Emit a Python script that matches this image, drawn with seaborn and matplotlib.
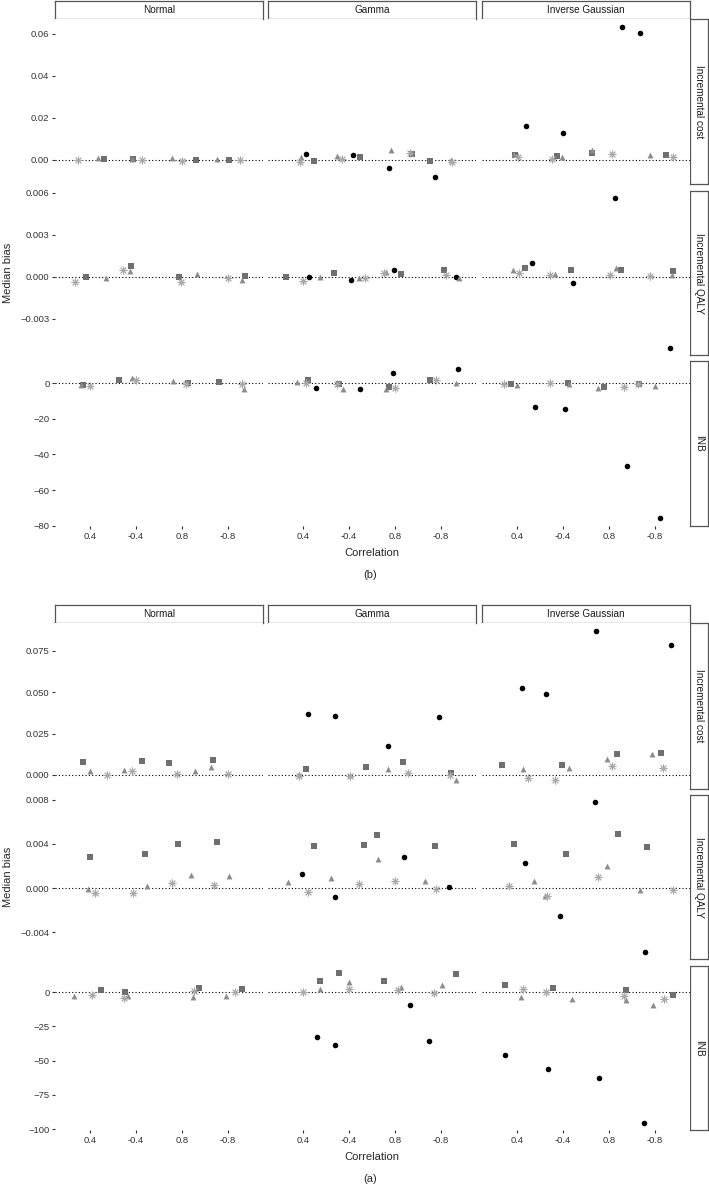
import numpy as np
import pandas as pd
import matplotlib
matplotlib.use("Agg")
import matplotlib.pyplot as plt
import seaborn as sns

sns.set_theme(style="white")
plt.rcParams["font.family"] = ["Liberation Sans", "DejaVu Sans"]

# x categories (facet columns share them)
correlations = ["0.4", "-0.4", "0.8", "-0.8"]
distributions = ["Normal", "Gamma", "Inverse Gaussian"]
outcomes = ["Incremental cost", "Incremental QALY", "INB"]
methods = ["circle", "square", "triangle", "asterisk"]

# each panel: one row per method (circle, square, triangle, asterisk),
# values in correlation order 0.4, -0.4, 0.8, -0.8; jitter = offset
# ---------------- panel (b) ----------------
b_cost_normal = [None,
                 [0.0005, 0.0005, 0.0, 0.0],
                 [0.0008, 0.0004, 0.0007, 0.0004],
                 [0.0, -0.0002, -0.0004, 0.0]]
b_cost_normal_jit = [None,
                     [0.30, -0.07, 0.30, 0.02],
                     [0.17, -0.09, -0.22, -0.23],
                     [-0.27, 0.12, -0.01, 0.26]]
b_cost_gamma = [[0.0025, 0.0024, -0.0041, -0.0081],
                [-0.0008, 0.0013, 0.0025, -0.0005],
                [0.0012, 0.0018, 0.0048, -0.0002],
                [-0.0013, 0.0005, 0.0032, -0.0011]]
b_cost_gamma_jit = [[0.07, 0.09, -0.14, -0.14],
                    [0.23, 0.25, 0.36, -0.25],
                    [-0.04, -0.25, -0.08, 0.22],
                    [-0.06, -0.15, 0.32, 0.24]]
b_cost_ig = [[0.016, 0.0129, 0.0633, 0.0605],
             [0.002, 0.0016, 0.003, 0.002],
             [0.0025, 0.0013, 0.0046, 0.0022],
             [0.0014, 0.0005, 0.0027, 0.0013]]
b_cost_ig_jit = [[0.20, 0.01, 0.28, -0.33],
                 [-0.05, -0.12, -0.37, 0.24],
                 [-0.07, -0.02, -0.36, -0.11],
                 [0.02, -0.23, 0.06, 0.39]]

b_qaly_normal = [None,
                 [-0.00005, 0.0008, 0.0, 0.00005],
                 [-0.0001, 0.0004, 0.0002, -0.0002],
                 [-0.0004, 0.00045, -0.0004, -0.0001]]
b_qaly_normal_jit = [None,
                     [-0.09, -0.10, -0.07, 0.36],
                     [0.35, -0.12, 0.33, 0.30],
                     [-0.33, -0.28, -0.02, 0.0]]
b_qaly_gamma = [[0.0, -0.0002, 0.00048, 0.0],
                [-0.00005, 0.00026, 0.0002, 0.0005],
                [-0.00005, -0.0001, 0.00035, -0.0001],
                [-0.0003, -0.0001, 0.00025, 0.00015]]
b_qaly_gamma_jit = [[0.14, 0.04, -0.03, 0.33],
                    [-0.37, -0.33, 0.12, 0.07],
                    [0.36, 0.21, -0.20, 0.40],
                    [-0.01, 0.34, -0.24, 0.11]]
b_qaly_ig = [[0.00095, -0.00043, 0.0056, -0.0051],
             [0.0006, 0.00048, 0.00048, 0.0004],
             [0.0005, 0.0002, 0.0006, 0.0001],
             [0.00026, 0.00015, 0.00015, 0.00005]]
b_qaly_ig_jit = [[0.33, 0.21, 0.14, 0.33],
                 [0.18, 0.17, 0.25, 0.38],
                 [-0.09, -0.18, 0.15, 0.37],
                 [0.04, -0.28, 0.03, -0.12]]

b_inb_normal = [None,
                [-0.75, 1.9, 0.0, 0.75],
                [-0.8, 3.2, 1.0, -3.0],
                [-1.5, 2.0, -0.5, -0.2]]
b_inb_normal_jit = [None,
                    [-0.15, -0.36, 0.12, -0.20],
                    [-0.20, -0.09, -0.20, 0.34],
                    [0.01, -0.01, 0.08, 0.31]]
b_inb_gamma = [[-2.6, -3.0, 5.6, 8.2],
               [2.0, -0.4, -1.9, 2.0],
               [0.7, -3.0, -3.0, 0.2],
               [0.2, -0.5, -2.4, 1.7]]
b_inb_gamma_jit = [[0.28, 0.24, -0.04, 0.37],
                   [0.11, -0.21, -0.14, -0.23],
                   [-0.14, -0.12, -0.20, 0.32],
                   [0.06, -0.26, -0.01, -0.12]]
b_inb_ig = [[-13.1, -14.2, -46.5, -75.9],
            [-0.2, 0.0, -1.9, -0.7],
            [-1.1, -0.2, -2.6, -1.3],
            [-0.4, 0.0, -2.2, -0.7]]
b_inb_ig_jit = [[0.40, 0.04, 0.39, 0.10],
                [-0.12, 0.10, -0.11, -0.34],
                [0.01, 0.14, -0.24, -0.01],
                [-0.28, -0.28, 0.33, -0.38]]

# ---------------- panel (a) ----------------
a_cost_normal = [None,
                 [0.0079, 0.0087, 0.0071, 0.0093],
                 [0.0024, 0.0030, 0.0024, 0.0046],
                 [0.0, 0.0022, 0.0008, 0.0008]]
a_cost_normal_jit = [None,
                     [-0.15, 0.13, -0.28, -0.33],
                     [0.01, -0.25, 0.29, -0.36],
                     [0.36, -0.09, -0.10, -0.01]]
a_cost_gamma = [[0.0369, 0.0357, 0.0177, 0.0349],
                [0.0034, 0.0046, 0.0081, 0.0012],
                [0.0004, -0.0002, 0.0038, -0.0032],
                [-0.0008, -0.0008, 0.001, 0.0]]
a_cost_gamma_jit = [[0.11, -0.30, -0.16, -0.04],
                    [0.07, 0.38, 0.17, 0.22],
                    [-0.09, 0.03, -0.15, 0.33],
                    [-0.09, 0.03, 0.28, 0.20]]
a_cost_ig = [[0.0526, 0.0492, 0.0869, 0.0786],
             [0.0058, 0.006, 0.0129, 0.0133],
             [0.0038, 0.004, 0.0097, 0.0125],
             [-0.0018, -0.0028, 0.0052, 0.0044]]
a_cost_ig_jit = [[0.12, -0.38, -0.28, 0.34],
                 [-0.33, -0.03, 0.17, 0.13],
                 [0.14, 0.12, -0.05, -0.07],
                 [0.24, -0.17, 0.07, 0.18]]

a_qaly_normal = [None,
                 [0.0028, 0.0031, 0.0040, 0.0042],
                 [-0.00006, 0.00015, 0.0012, 0.0011],
                 [-0.0004, -0.00045, 0.00045, 0.00024]]
a_qaly_normal_jit = [None,
                     [0.0, 0.19, -0.08, -0.24],
                     [-0.05, 0.24, 0.20, 0.02],
                     [0.12, -0.06, -0.21, -0.30]]
a_qaly_gamma = [[0.0013, -0.00084, 0.0028, 0.00006],
                [0.0038, 0.0039, 0.0048, 0.0038],
                [0.00057, 0.0009, 0.0026, 0.0006],
                [-0.00033, 0.0004, 0.0006, -0.00012]]
a_qaly_gamma_jit = [[-0.03, -0.30, 0.20, 0.17],
                    [0.23, 0.33, -0.39, -0.14],
                    [-0.33, -0.39, -0.36, -0.34],
                    [0.12, 0.21, -0.01, -0.11]]
a_qaly_ig = [[0.0023, -0.0025, 0.0078, -0.0058],
             [0.004, 0.0031, 0.0049, 0.0037],
             [0.0006, -0.0007, 0.0020, -0.00015],
             [0.0002, -0.0007, 0.001, -0.0002]]
a_qaly_ig_jit = [[0.17, -0.07, -0.30, -0.21],
                 [-0.07, 0.07, 0.20, -0.17],
                 [0.38, -0.40, -0.04, -0.32],
                 [-0.17, -0.34, -0.25, 0.39]]

a_inb_normal = [None,
                [1.7, 0.0, 2.9, 2.2],
                [-3.0, -2.4, -3.7, -2.4],
                [-1.7, -3.9, 1.0, 0.0]]
a_inb_normal_jit = [None,
                    [0.25, -0.23, 0.36, 0.31],
                    [-0.34, -0.17, 0.23, -0.04],
                    [0.04, -0.25, 0.26, 0.16]]
a_inb_gamma = [[-32.9, -38.5, -9.3, -35.6],
               [8.3, 14.1, 8.3, 13.6],
               [2.4, 7.8, 3.9, 5.1],
               [0.0, 2.4, 1.5, -0.2]]
a_inb_gamma_jit = [[0.30, -0.30, 0.33, -0.27],
                   [0.36, -0.21, -0.25, 0.32],
                   [0.37, 0.0, 0.14, 0.02],
                   [-0.01, 0.01, 0.07, -0.15]]
a_inb_ig = [[-45.8, -55.8, -62.9, -95.8],
            [5.6, 3.2, 1.5, -2.2],
            [-3.2, -4.6, -5.6, -9.0],
            [2.2, 0.2, -2.4, -5.1]]
a_inb_ig_jit = [[-0.25, -0.33, -0.21, -0.23],
                [-0.25, -0.22, 0.38, 0.39],
                [0.08, 0.20, 0.38, -0.04],
                [0.13, -0.36, 0.33, 0.19]]

# y tick values per row
b_yticks = [[0.0, 0.02, 0.04, 0.06], [-0.003, 0.0, 0.003, 0.006], [-80, -60, -40, -20, 0]]
b_yticklabels = [["0.00", "0.02", "0.04", "0.06"], ["\u22120.003", "0.000", "0.003", "0.006"],
                 ["\u221280", "\u221260", "\u221240", "\u221220", "0"]]
a_yticks = [[0.0, 0.025, 0.05, 0.075], [-0.004, 0.0, 0.004, 0.008], [-100, -75, -50, -25, 0]]
a_yticklabels = [["0.000", "0.025", "0.050", "0.075"], ["\u22120.004", "0.000", "0.004", "0.008"],
                 ["\u2212100", "\u221275", "\u221250", "\u221225", "0"]]
b_ylims = [(-0.0116, 0.0671), (-0.00559, 0.00612), (-80.2, 12.5)]
a_ylims = [(-0.0085, 0.0918), (-0.0064, 0.00841), (-100.7, 19.2)]

panels_b = [[b_cost_normal, b_cost_gamma, b_cost_ig],
            [b_qaly_normal, b_qaly_gamma, b_qaly_ig],
            [b_inb_normal, b_inb_gamma, b_inb_ig]]
jit_b = [[b_cost_normal_jit, b_cost_gamma_jit, b_cost_ig_jit],
         [b_qaly_normal_jit, b_qaly_gamma_jit, b_qaly_ig_jit],
         [b_inb_normal_jit, b_inb_gamma_jit, b_inb_ig_jit]]
panels_a = [[a_cost_normal, a_cost_gamma, a_cost_ig],
            [a_qaly_normal, a_qaly_gamma, a_qaly_ig],
            [a_inb_normal, a_inb_gamma, a_inb_ig]]
jit_a = [[a_cost_normal_jit, a_cost_gamma_jit, a_cost_ig_jit],
         [a_qaly_normal_jit, a_qaly_gamma_jit, a_qaly_ig_jit],
         [a_inb_normal_jit, a_inb_gamma_jit, a_inb_ig_jit]]

marker_style = {
    "circle": dict(marker="o", color="black", s=16, linewidth=0),
    "square": dict(marker="s", color="#6f6f6f", s=13, linewidth=0),
    "triangle": dict(marker="^", color="#8c8c8c", s=18, linewidth=0),
    "asterisk": dict(marker=(8, 2, 0), color="#a8a8a8", s=26, linewidth=0.7),
}

W, H = 709, 1187
fig = plt.figure(figsize=(W / 100, H / 100), dpi=100)


def box(x0, y0, x1, y1):
    # pixel box (top-left origin) -> figure fraction rect
    return [x0 / W, 1 - y1 / H, (x1 - x0) / W, (y1 - y0) / H]


col_x = [(55, 263), (268, 476), (482, 690)]
strip_col = "#555555"
tick_col = "#333333"


def strip(rect, text, rotation=0):
    ax = fig.add_axes(rect)
    ax.set_xticks([])
    ax.set_yticks([])
    ax.set_facecolor("white")
    for sp in ax.spines.values():
        sp.set_color(strip_col)
        sp.set_linewidth(0.9)
        sp.set_visible(True)
    ax.text(0.5, 0.5, text, ha="center", va="center", rotation=rotation,
            fontsize=7.2, color="#1a1a1a", transform=ax.transAxes)


def draw_block(panels, jits, ylims, yticks, yticklabels, top, rows, label):
    for c, dist in enumerate(distributions):
        strip(box(col_x[c][0], top, col_x[c][1], rows[0][0]), dist)
    for r, outcome in enumerate(outcomes):
        strip(box(690, rows[r][0], 708, rows[r][1]), outcome, rotation=-90)
        for c, dist in enumerate(distributions):
            vals = panels[r][c]
            jit = jits[r][c]
            recs = []
            for m, name in enumerate(methods):
                if vals[m] is None:
                    continue
                for k, corr in enumerate(correlations):
                    recs.append({"method": name, "pos": k + 1 + jit[m][k], "bias": vals[m][k]})
            df = pd.DataFrame(recs)
            ax = fig.add_axes(box(col_x[c][0], rows[r][0], col_x[c][1], rows[r][1]))
            ax.set_facecolor("white")
            ax.axhline(0, color="black", linestyle=(0, (1, 2)), linewidth=0.8, zorder=1)
            for name in methods:
                sub = df[df["method"] == name]
                if len(sub) == 0:
                    continue
                sns.scatterplot(data=sub, x="pos", y="bias", ax=ax, legend=False,
                                zorder=3, **marker_style[name])
            ax.set_xlim(0.24, 4.76)
            ax.set_ylim(*ylims[r])
            for sp in ax.spines.values():
                sp.set_visible(False)
            ax.set_xlabel("")
            ax.set_ylabel("")
            ax.tick_params(left=True, bottom=True, length=2.5, width=0.8, color=tick_col,
                           labelcolor=tick_col, labelsize=6.8, pad=1.5)
            ax.set_xticks([1, 2, 3, 4])
            if r == 2:
                ax.set_xticklabels(correlations)
            else:
                ax.set_xticklabels([])
                ax.tick_params(axis="x", length=0)
            ax.set_yticks(yticks[r])
            if c == 0:
                ax.set_yticklabels(yticklabels[r])
            else:
                ax.set_yticklabels([])
                ax.tick_params(axis="y", length=0)
    mid = (rows[0][0] + rows[2][1]) / 2
    fig.text(8 / W, 1 - mid / H, "Median bias", rotation=90, ha="center", va="center",
             fontsize=8.0)
    fig.text(372 / W, 1 - (rows[2][1] + 27) / H, "Correlation", ha="center", va="center",
             fontsize=8.0)
    fig.text(370 / W, 1 - (rows[2][1] + 49) / H, label, ha="center", va="center",
             fontsize=8.0)


draw_block(panels_b, jit_b, b_ylims, b_yticks, b_yticklabels, 1,
           [(19, 184), (191, 355), (361, 526)], "(b)")
draw_block(panels_a, jit_a, a_ylims, a_yticks, a_yticklabels, 605,
           [(623, 789), (795, 959), (966, 1130)], "(a)")

fig.savefig("out.png", dpi=100, facecolor="white")
